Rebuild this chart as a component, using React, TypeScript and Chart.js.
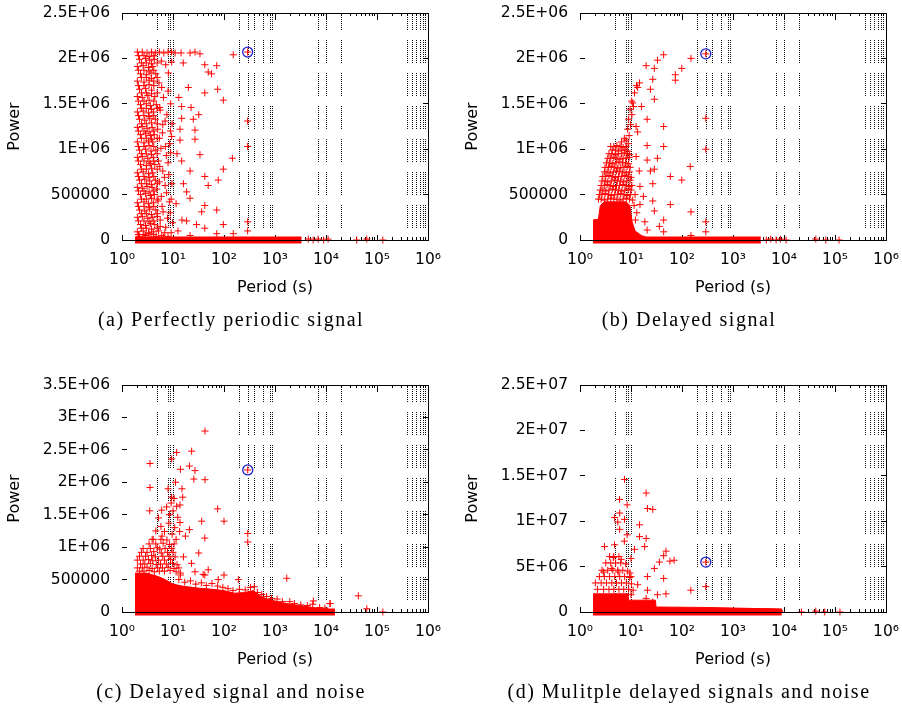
import React, { useEffect, useRef } from 'react';
import { Chart, registerables } from 'chart.js';

Chart.register(...registerables);

type Pt = [number, number];

// ---------- axes ----------
const periodMajorTicks = [1, 10, 100, 1000, 10000, 100000, 1000000];
const periodMajorLabels = ['10⁰', '10¹', '10²', '10³', '10⁴', '10⁵', '10⁶'];
const periodMinorTicks = [
  2, 3, 4, 5, 6, 7, 8, 9,
  20, 30, 40, 50, 60, 70, 80, 90,
  200, 300, 400, 500, 600, 700, 800, 900,
  2000, 3000, 4000, 5000, 6000, 7000, 8000, 9000,
  20000, 30000, 40000, 50000, 60000, 70000, 80000, 90000,
  200000, 300000, 400000, 500000, 600000, 700000, 800000, 900000,
];
const periodGridLines = [5, 8, 9, 10, 200, 300, 400, 600, 800, 900, 7000, 10000, 20000, 400000, 500000, 600000, 700000, 800000, 900000];

const powerTicksAB = [0, 500000, 1000000, 1500000, 2000000, 2500000];
const powerLabelsAB = ['0', '500000', '1E+06', '1.5E+06', '2E+06', '2.5E+06'];
const powerTicksC = [0, 500000, 1000000, 1500000, 2000000, 2500000, 3000000, 3500000];
const powerLabelsC = ['0', '500000', '1E+06', '1.5E+06', '2E+06', '2.5E+06', '3E+06', '3.5E+06'];
const powerTicksD = [0, 5000000, 10000000, 15000000, 20000000, 25000000];
const powerLabelsD = ['0', '5E+06', '1E+07', '1.5E+07', '2E+07', '2.5E+07'];

// ---------- (a) perfectly periodic signal ----------
const aColumn: Pt[] = [
  [2.0, 2.07e6], [2.5, 2.07e6], [3.1, 2.06e6], [3.8, 2.07e6], [4.5, 2.06e6], [5.4, 2.07e6], [6.6, 2.06e6], [8.0, 2.07e6], [9.4, 2.07e6], [11, 2.06e6],
  [2.2, 1.99e6], [2.9, 2.0e6], [3.5, 1.98e6], [4.3, 1.99e6], [5.9, 1.97e6],
  [2.0, 1.91e6], [2.6, 1.92e6], [3.3, 1.9e6], [4.0, 1.91e6], [7.2, 1.93e6],
  [2.3, 1.83e6], [3.0, 1.82e6], [3.7, 1.84e6], [4.6, 1.83e6],
  [2.0, 1.75e6], [2.7, 1.74e6], [3.4, 1.76e6], [4.2, 1.75e6], [5.3, 1.73e6],
  [2.2, 1.66e6], [2.9, 1.67e6], [3.8, 1.65e6],
  [2.0, 1.58e6], [2.5, 1.57e6], [3.2, 1.59e6], [4.4, 1.58e6],
  [2.3, 1.49e6], [3.0, 1.5e6], [3.6, 1.48e6], [4.7, 1.49e6],
  [2.0, 1.41e6], [2.6, 1.42e6], [3.3, 1.4e6], [4.1, 1.41e6], [5.6, 1.43e6],
  [2.2, 1.33e6], [2.8, 1.32e6], [3.5, 1.34e6], [4.5, 1.33e6], [7.0, 1.31e6],
  [2.0, 1.24e6], [2.5, 1.25e6], [3.1, 1.23e6], [3.9, 1.24e6], [5.0, 1.22e6],
  [2.3, 1.16e6], [2.9, 1.17e6], [3.6, 1.15e6], [4.3, 1.16e6], [6.2, 1.18e6],
  [2.0, 1.08e6], [2.7, 1.07e6], [3.3, 1.09e6], [4.0, 1.08e6], [8.6, 1.06e6],
  [2.2, 0.99e6], [2.9, 1.0e6], [3.7, 0.98e6], [4.6, 0.99e6], [5.8, 1.01e6],
  [2.0, 0.91e6], [2.5, 0.92e6], [3.2, 0.9e6], [4.1, 0.91e6], [7.4, 0.93e6],
  [2.3, 0.83e6], [3.0, 0.82e6], [3.6, 0.84e6], [4.4, 0.83e6], [5.5, 0.81e6],
  [2.0, 0.74e6], [2.6, 0.75e6], [3.3, 0.73e6], [4.0, 0.74e6], [6.3, 0.76e6], [8.3, 0.72e6],
  [2.2, 0.66e6], [2.8, 0.67e6], [3.5, 0.65e6], [4.5, 0.66e6], [5.4, 0.64e6],
  [2.0, 0.58e6], [2.5, 0.57e6], [3.1, 0.59e6], [3.9, 0.58e6], [4.8, 0.56e6], [7.0, 0.6e6],
  [2.3, 0.5e6], [2.9, 0.51e6], [3.6, 0.49e6], [4.3, 0.5e6], [5.9, 0.48e6],
  [2.0, 0.41e6], [2.7, 0.42e6], [3.3, 0.4e6], [4.1, 0.41e6], [5.1, 0.43e6], [8.5, 0.42e6],
  [2.2, 0.33e6], [2.8, 0.32e6], [3.5, 0.34e6], [4.6, 0.33e6], [6.4, 0.31e6],
  [2.0, 0.25e6], [2.5, 0.26e6], [3.2, 0.24e6], [3.9, 0.25e6], [4.9, 0.26e6], [7.8, 0.24e6],
  [2.3, 0.17e6], [2.9, 0.16e6], [3.6, 0.18e6], [4.4, 0.17e6], [5.6, 0.15e6],
  [2.0, 0.09e6], [2.6, 0.1e6], [3.3, 0.08e6], [4.1, 0.09e6], [5.2, 0.1e6], [6.9, 0.08e6],
  [2.2, 0.04e6], [2.9, 0.05e6], [3.7, 0.03e6], [4.7, 0.04e6], [6.0, 0.05e6], [8.0, 0.04e6],
];
const aColumnFill: Pt[] = [
  [2.1, 2.03e6], [2.7, 2.03e6], [3.4, 2.02e6], [4.2, 2.03e6],
  [2.4, 1.95e6], [3.0, 1.95e6], [3.8, 1.94e6], [4.9, 1.95e6],
  [2.1, 1.87e6], [2.7, 1.87e6], [3.4, 1.86e6], [4.2, 1.87e6],
  [2.4, 1.79e6], [3.0, 1.79e6], [3.8, 1.78e6], [4.9, 1.79e6],
  [2.1, 1.7e6], [2.7, 1.7e6], [3.4, 1.71e6], [4.2, 1.7e6],
  [2.4, 1.62e6], [3.0, 1.62e6], [3.8, 1.61e6], [4.9, 1.62e6],
  [2.1, 1.53e6], [2.7, 1.53e6], [3.4, 1.54e6], [4.2, 1.53e6],
  [2.4, 1.45e6], [3.0, 1.45e6], [3.8, 1.44e6], [4.9, 1.45e6],
  [2.1, 1.37e6], [2.7, 1.37e6], [3.4, 1.36e6], [4.2, 1.37e6],
  [2.4, 1.28e6], [3.0, 1.28e6], [3.8, 1.29e6], [4.9, 1.28e6],
  [2.1, 1.2e6], [2.7, 1.2e6], [3.4, 1.19e6], [4.2, 1.2e6],
  [2.4, 1.12e6], [3.0, 1.12e6], [3.8, 1.11e6], [4.9, 1.12e6],
  [2.1, 1.03e6], [2.7, 1.03e6], [3.4, 1.04e6], [4.2, 1.03e6],
  [2.4, 0.95e6], [3.0, 0.95e6], [3.8, 0.94e6], [4.9, 0.95e6],
  [2.1, 0.87e6], [2.7, 0.87e6], [3.4, 0.86e6], [4.2, 0.87e6],
  [2.4, 0.78e6], [3.0, 0.78e6], [3.8, 0.79e6], [4.9, 0.78e6],
  [2.1, 0.7e6], [2.7, 0.7e6], [3.4, 0.69e6], [4.2, 0.7e6],
  [2.4, 0.62e6], [3.0, 0.62e6], [3.8, 0.61e6], [4.9, 0.62e6],
  [2.1, 0.54e6], [2.7, 0.54e6], [3.4, 0.53e6], [4.2, 0.54e6],
  [2.4, 0.45e6], [3.0, 0.45e6], [3.8, 0.46e6], [4.9, 0.45e6],
  [2.1, 0.37e6], [2.7, 0.37e6], [3.4, 0.36e6], [4.2, 0.37e6],
  [2.4, 0.29e6], [3.0, 0.29e6], [3.8, 0.28e6], [4.9, 0.29e6],
  [2.1, 0.21e6], [2.7, 0.21e6], [3.4, 0.2e6], [4.2, 0.21e6],
  [2.4, 0.13e6], [3.0, 0.13e6], [3.8, 0.12e6], [4.9, 0.13e6],
  [2.1, 0.06e6], [2.7, 0.06e6], [3.4, 0.07e6], [4.2, 0.06e6],
];
const aMid: Pt[] = [
  [9.4, 1.96e6], [8.1, 1.84e6], [6.0, 1.68e6], [8.0, 1.64e6], [6.5, 1.57e6], [9.0, 1.5e6], [5.5, 1.46e6],
  [7.6, 1.38e6], [9.6, 1.28e6], [6.3, 1.27e6], [8.9, 1.2e6], [9.4, 1.14e6], [5.4, 1.12e6], [7.1, 1.03e6],
  [9.0, 0.96e6], [5.2, 0.87e6], [8.0, 0.85e6], [6.8, 0.69e6], [9.5, 0.62e6], [7.5, 0.52e6], [9.2, 0.45e6],
  [6.1, 0.37e6], [8.8, 0.3e6], [5.6, 0.22e6], [9.8, 0.19e6], [7.2, 0.14e6], [9.2, 0.08e6], [6.5, 0.03e6],
];
const aSparse: Pt[] = [
  [14.4, 2.06e6], [27, 2.07e6], [21.6, 2.06e6], [33.8, 2.05e6], [152, 2.04e6], [291, 2.07e6],
  [15.9, 1.95e6], [42, 1.93e6], [72, 1.92e6], [49, 1.85e6], [57, 1.83e6], [20, 1.68e6], [42, 1.62e6],
  [75, 1.66e6], [97, 1.54e6], [13, 1.57e6], [14.8, 1.47e6], [22.6, 1.46e6], [14.8, 1.34e6], [32, 1.38e6],
  [25, 1.33e6], [27, 1.21e6], [13.7, 1.22e6], [13.7, 1.1e6], [27, 1.11e6], [33.8, 0.94e6], [14.8, 0.87e6],
  [146, 0.9e6], [21.6, 0.76e6], [97, 0.78e6], [42, 0.7e6], [77, 0.66e6], [49, 0.6e6], [18.5, 0.53e6],
  [16, 0.62e6], [21.6, 0.46e6], [42, 0.38e6], [36.5, 0.31e6], [72, 0.33e6], [29, 0.17e6], [18.5, 0.21e6],
  [15, 0.22e6], [42, 0.13e6], [97, 0.17e6], [152, 0.07e6], [72, 0.07e6], [21.6, 0.05e6], [12, 0.95e6],
  [11.5, 0.4e6], [12.5, 0.1e6], [291, 1.31e6], [291, 1.03e6], [291, 0.2e6], [291, 0.1e6],
];
const aFar: Pt[] = [
  [4500, 0.01e6], [5600, 0], [7000, 0.01e6], [9000, 0], [11000, 0.01e6], [40000, 0], [63000, 0.01e6], [130000, 0],
];
const aFloor: Pt[] = [[1.8, 0], [3300, 0]];
const aPeak: Pt[] = [[291, 2.07e6]];

// ---------- (b) delayed signal ----------
const bCluster: Pt[] = [
  [4.0, 1.03e6], [4.6, 1.03e6], [5.3, 1.04e6], [6.1, 1.03e6], [7.0, 1.02e6], [8.0, 1.03e6],
  [4.3, 0.99e6], [5.0, 0.99e6], [5.7, 0.98e6], [6.6, 0.99e6], [7.6, 0.99e6], [8.6, 0.98e6],
  [3.7, 0.95e6], [4.2, 0.95e6], [4.9, 0.94e6], [5.6, 0.95e6], [6.5, 0.95e6], [7.4, 0.96e6], [8.5, 0.95e6], [9.4, 0.94e6],
  [3.5, 0.9e6], [4.0, 0.9e6], [4.6, 0.91e6], [5.3, 0.9e6], [6.1, 0.89e6], [7.0, 0.9e6], [8.0, 0.9e6], [9.2, 0.91e6],
  [3.3, 0.85e6], [3.8, 0.85e6], [4.4, 0.84e6], [5.1, 0.85e6], [5.8, 0.86e6], [6.8, 0.85e6], [7.8, 0.85e6], [9.0, 0.84e6],
  [3.1, 0.8e6], [3.6, 0.8e6], [4.1, 0.81e6], [4.8, 0.8e6], [5.5, 0.79e6], [6.3, 0.8e6], [7.3, 0.8e6], [8.4, 0.81e6], [9.6, 0.8e6],
  [3.0, 0.75e6], [3.4, 0.75e6], [3.9, 0.74e6], [4.5, 0.75e6], [5.2, 0.76e6], [6.0, 0.75e6], [6.9, 0.75e6], [8.0, 0.74e6], [9.3, 0.75e6],
  [2.8, 0.7e6], [3.2, 0.7e6], [3.7, 0.71e6], [4.3, 0.7e6], [4.9, 0.69e6], [5.7, 0.7e6], [6.6, 0.7e6], [7.6, 0.71e6], [8.8, 0.7e6], [10, 0.69e6],
  [2.7, 0.65e6], [3.1, 0.65e6], [3.5, 0.64e6], [4.1, 0.65e6], [4.7, 0.66e6], [5.4, 0.65e6], [6.2, 0.65e6], [7.2, 0.64e6], [8.3, 0.65e6], [9.6, 0.66e6],
  [2.6, 0.6e6], [3.0, 0.6e6], [3.4, 0.61e6], [3.9, 0.6e6], [4.5, 0.59e6], [5.2, 0.6e6], [6.0, 0.6e6], [6.9, 0.61e6], [8.0, 0.6e6], [9.2, 0.59e6], [10.4, 0.6e6],
  [2.5, 0.55e6], [2.8, 0.55e6], [3.2, 0.54e6], [3.7, 0.55e6], [4.3, 0.56e6], [5.0, 0.55e6], [5.7, 0.55e6], [6.6, 0.54e6], [7.6, 0.55e6], [8.8, 0.56e6], [10, 0.55e6],
  [2.4, 0.5e6], [2.7, 0.5e6], [3.1, 0.51e6], [3.6, 0.5e6], [4.1, 0.49e6], [4.8, 0.5e6], [5.5, 0.5e6], [6.3, 0.51e6], [7.3, 0.5e6], [8.4, 0.49e6], [9.7, 0.5e6],
  [2.3, 0.45e6], [2.6, 0.45e6], [3.0, 0.44e6], [3.5, 0.45e6], [4.0, 0.46e6], [4.6, 0.45e6], [5.3, 0.45e6], [6.1, 0.44e6], [7.0, 0.45e6], [8.1, 0.46e6], [9.3, 0.45e6], [10.8, 0.44e6],
];
const bTail: Pt[] = [
  [8.0, 1.1e6], [9.2, 1.15e6], [8.6, 1.22e6], [9.8, 1.27e6], [9.0, 1.33e6], [10.4, 1.38e6], [9.6, 1.44e6], [11.2, 1.47e6],
  [10.3, 1.53e6], [11.7, 1.62e6], [12.8, 1.7e6], [14.7, 1.73e6], [13.5, 1.68e6], [10.8, 1.51e6], [12.6, 1.25e6], [13.5, 1.19e6],
  [6.5, 1.08e6], [7.4, 1.12e6], [8.8, 1.06e6],
];
const bSparse: Pt[] = [
  [43.7, 2.04e6], [33, 1.98e6], [19.8, 1.92e6], [28.7, 1.89e6], [99, 1.89e6], [150, 2.0e6], [74, 1.82e6], [74, 1.76e6],
  [26.7, 1.77e6], [24, 1.66e6], [28.7, 1.55e6], [16, 1.47e6], [20.7, 1.33e6], [43.7, 1.25e6], [293, 1.34e6], [20.7, 1.04e6],
  [43.7, 1.03e6], [293, 1.0e6], [12.6, 0.92e6], [33, 0.9e6], [20.7, 0.88e6], [145, 0.81e6], [14.5, 0.76e6], [24, 0.76e6],
  [28.7, 0.78e6], [59, 0.7e6], [99, 0.66e6], [15, 0.59e6], [26.7, 0.62e6], [26.7, 0.43e6], [59, 0.39e6], [15, 0.39e6],
  [28.7, 0.32e6], [150, 0.31e6], [18.7, 0.2e6], [43.7, 0.22e6], [36, 0.15e6], [43.7, 0.09e6], [20.7, 0.11e6], [150, 0.05e6],
  [293, 0.09e6], [293, 0.2e6], [12, 0.5e6], [17.5, 0.48e6], [13, 0.3e6], [293, 2.05e6], [11.5, 0.38e6], [12.2, 0.22e6],
];
const bArea: Pt[] = [
  [1.8, 0.22e6], [2.3, 0.23e6], [2.5, 0.38e6], [3, 0.42e6], [8, 0.42e6], [9.5, 0.38e6],
  [10.5, 0.2e6], [12, 0.1e6], [16, 0.05e6], [22, 0.02e6], [28, 0],
];
const bFar: Pt[] = [
  [4500, 0], [5500, 0.01e6], [7000, 0], [8500, 0.01e6], [11000, 0], [42000, 0.01e6], [66000, 0], [120000, 0],
];
const bFloor: Pt[] = [[1.8, 0], [3500, 0]];
const bPeak: Pt[] = [[293, 2.05e6]];

// ---------- (c) delayed signal and noise ----------
const cArea: Pt[] = [
  [1.8, 0.6e6], [3, 0.6e6], [5, 0.55e6], [7, 0.5e6], [10, 0.43e6], [15, 0.4e6], [30, 0.37e6], [60, 0.35e6],
  [100, 0.33e6], [160, 0.29e6], [250, 0.3e6], [380, 0.33e6], [500, 0.25e6], [700, 0.2e6], [1000, 0.17e6],
  [1700, 0.13e6], [3000, 0.1e6], [5600, 0.07e6], [10000, 0.04e6], [15000, 0],
];
const cCluster: Pt[] = [
  [3.9, 1.12e6], [5.8, 1.12e6], [7.6, 1.11e6],
  [3.4, 1.05e6], [4.6, 1.05e6], [6.4, 1.06e6], [8.5, 1.04e6], [10.5, 1.05e6],
  [2.6, 0.98e6], [3.6, 0.98e6], [4.9, 0.99e6], [5.5, 0.97e6], [7.0, 0.98e6], [9.4, 0.98e6],
  [2.4, 0.92e6], [3.1, 0.92e6], [4.2, 0.93e6], [5.9, 0.91e6], [7.8, 0.92e6], [10, 0.92e6],
  [2.2, 0.86e6], [2.9, 0.86e6], [3.8, 0.87e6], [4.5, 0.85e6], [6.3, 0.86e6], [8.4, 0.86e6], [11, 0.85e6],
  [2.0, 0.8e6], [2.6, 0.8e6], [3.3, 0.81e6], [4.0, 0.79e6], [5.2, 0.8e6], [6.8, 0.8e6], [9.0, 0.81e6],
  [2.3, 0.74e6], [2.8, 0.74e6], [3.6, 0.75e6], [4.7, 0.73e6], [5.7, 0.74e6], [7.4, 0.74e6], [9.8, 0.75e6], [12, 0.73e6],
  [2.0, 0.68e6], [2.5, 0.68e6], [3.1, 0.69e6], [3.9, 0.67e6], [5.0, 0.68e6], [6.2, 0.68e6], [8.0, 0.69e6], [10.5, 0.67e6],
  [2.2, 0.63e6], [2.7, 0.63e6], [3.4, 0.64e6], [4.3, 0.62e6], [5.4, 0.63e6], [6.8, 0.63e6], [8.8, 0.64e6], [11.5, 0.62e6], [14, 0.6e6],
];
const cEdge: Pt[] = [
  [13, 0.5e6], [17, 0.46e6], [22, 0.48e6], [28, 0.43e6], [36, 0.45e6], [45, 0.41e6], [58, 0.44e6], [75, 0.4e6],
  [95, 0.38e6], [120, 0.36e6], [150, 0.33e6], [200, 0.35e6], [260, 0.34e6], [330, 0.38e6], [393, 0.39e6], [450, 0.3e6],
  [550, 0.27e6], [680, 0.24e6], [850, 0.21e6], [1100, 0.2e6], [1400, 0.16e6], [1950, 0.16e6], [2400, 0.13e6],
  [3200, 0.11e6], [4300, 0.1e6], [5500, 0.12e6], [7500, 0.07e6], [9500, 0.06e6], [12000, 0.13e6],
  [77, 0.5e6], [39, 0.58e6], [13, 0.68e6],
];
const cUpper: Pt[] = [
  [5.2, 1.45e6], [7.5, 1.62e6], [9.2, 1.68e6], [10.5, 1.75e6], [8.3, 1.37e6], [10.8, 1.3e6], [12.4, 1.46e6],
  [6.8, 1.24e6], [9.6, 1.2e6], [11.5, 1.12e6], [4.6, 1.25e6], [8.0, 1.9e6], [11.2, 2.0e6], [4.1, 1.12e6], [6.1, 1.17e6],
];
const cSparse: Pt[] = [
  [42.4, 2.79e6], [11.8, 2.46e6], [23.2, 2.48e6], [3.54, 2.29e6], [9.4, 2.36e6], [14, 2.2e6], [21, 2.25e6], [27, 2.18e6],
  [25.6, 2.05e6], [42.4, 2.04e6], [3.54, 1.92e6], [15, 1.9e6], [9.4, 1.77e6], [13.7, 1.65e6], [11.8, 1.63e6], [15.5, 1.77e6],
  [75, 1.59e6], [3.5, 1.56e6], [6, 1.57e6], [10, 1.56e6], [8.5, 1.5e6], [36.5, 1.4e6], [100, 1.4e6], [13.7, 1.38e6],
  [5.8, 1.32e6], [13.5, 1.24e6], [21, 1.27e6], [17.5, 1.17e6], [42, 1.14e6], [292, 1.21e6], [292, 1.08e6], [32, 0.91e6],
  [16, 0.85e6], [23, 0.75e6], [27, 0.62e6], [49, 0.65e6], [42, 0.57e6], [100, 0.57e6], [14, 0.57e6], [1700, 0.52e6],
  [191, 0.5e6], [5640, 0.17e6], [12000, 0.13e6], [43000, 0.25e6], [63000, 0.05e6], [130000, 0], [292, 2.19e6],
];
const cFloor: Pt[] = [[1.8, 0], [15000, 0]];
const cPeak: Pt[] = [[292, 2.19e6]];

// ---------- (d) multiple delayed signals and noise ----------
const dArea: Pt[] = [
  [1.8, 2.0e6], [8.7, 2.0e6], [9.0, 1.3e6], [30, 1.3e6], [31, 0.55e6], [300, 0.5e6], [2000, 0.4e6], [6000, 0.35e6], [9000, 0.3e6], [9500, 0],
];
const dCluster: Pt[] = [
  [2.2, 2.5e6], [2.9, 2.5e6], [3.7, 2.5e6], [4.6, 2.5e6], [5.8, 2.5e6], [7.2, 2.5e6], [9.0, 2.5e6], [11, 2.4e6],
  [2.0, 3.2e6], [2.6, 3.2e6], [3.3, 3.2e6], [4.2, 3.2e6], [5.2, 3.2e6], [6.5, 3.2e6], [8.1, 3.2e6], [10.2, 3.1e6],
  [2.4, 3.9e6], [3.0, 3.9e6], [3.8, 3.9e6], [4.8, 3.9e6], [6.0, 3.9e6], [7.5, 3.9e6], [9.4, 3.8e6],
  [2.7, 4.6e6], [3.5, 4.6e6], [4.4, 4.6e6], [5.5, 4.6e6], [6.9, 4.6e6], [8.6, 4.5e6],
  [3.2, 5.4e6], [4.0, 5.4e6], [5.0, 5.4e6], [6.3, 5.4e6], [7.9, 5.3e6],
  [3.8, 6.1e6], [4.6, 6.1e6], [5.8, 6.1e6],
];
const dSparse: Pt[] = [
  [7.45, 14.6e6], [19.8, 13.1e6], [5.96, 12.4e6], [8.4, 11.8e6], [26.7, 11.3e6], [21, 11.4e6], [6, 10.9e6], [7.45, 10.2e6],
  [4.76, 10.4e6], [5.5, 9.9e6], [14.7, 9.6e6], [6, 9.1e6], [14.7, 8.3e6], [19.8, 8.1e6], [7.4, 7.8e6], [18.5, 7.2e6],
  [11.7, 6.9e6], [48.5, 6.7e6], [36, 5.5e6], [58, 5.6e6], [70, 5.7e6], [43.7, 6.2e6], [293, 5.5e6], [293, 2.8e6],
  [149, 2.4e6], [33, 1.9e6], [48.5, 2.0e6], [19.8, 1.5e6], [26.7, 1.1e6], [8.4, 8.5e6],
  [3.03, 7.2e6], [4.76, 7.4e6], [4.5, 6.0e6], [6.4, 5.8e6], [10, 5.9e6], [2.9, 4.4e6], [4.2, 4.8e6], [5.6, 4.4e6],
  [10, 3.9e6], [10, 1.9e6], [13.5, 3.0e6], [21, 2.4e6], [21, 3.9e6], [28.7, 4.8e6], [43.7, 3.7e6], [9.5, 4.3e6],
];
const dFar: Pt[] = [[22000, 0], [42000, 0.1e6], [63000, 0], [125000, 0]];
const dFloor: Pt[] = [[1.8, 0], [9000, 0]];
const dPeak: Pt[] = [[293, 5.5e6]];

// ---------- styles ----------
const RED = '#ff0000';
const PEAK_BLUE = '#1f1fd0';
const FONT = "'DejaVu Sans', sans-serif";
const gridDash = [1, 1, 1, 1, 1, 1, 1, 1, 1, 1, 1, 1, 1, 1, 1, 1, 1, 1, 1, 1, 1, 1, 1, 10];
const CANVAS_W = 444;
const CANVAS_H = 332;

interface PanelDef {
  caption: string;
  left: number;
  top: number;
  ticks: number[];
  labels: string[];
  points: Pt[];
  area: Pt[] | null;
  floor: Pt[];
  peak: Pt[];
}

const panels: PanelDef[] = [
  { caption: '(a) Perfectly periodic signal', left: 0, top: 0, ticks: powerTicksAB, labels: powerLabelsAB,
    points: [...aColumn, ...aColumnFill, ...aMid, ...aSparse, ...aFar], area: null, floor: aFloor, peak: aPeak },
  { caption: '(b) Delayed signal', left: 458, top: 0, ticks: powerTicksAB, labels: powerLabelsAB,
    points: [...bCluster, ...bTail, ...bSparse, ...bFar], area: bArea, floor: bFloor, peak: bPeak },
  { caption: '(c) Delayed signal and noise', left: 0, top: 372, ticks: powerTicksC, labels: powerLabelsC,
    points: [...cCluster, ...cEdge, ...cUpper, ...cSparse], area: cArea, floor: cFloor, peak: cPeak },
  { caption: '(d) Mulitple delayed signals and noise', left: 458, top: 372, ticks: powerTicksD, labels: powerLabelsD,
    points: [...dCluster, ...dSparse, ...dFar], area: dArea, floor: dFloor, peak: dPeak },
];

const toXY = (pts: Pt[]) => pts.map(([x, y]) => ({ x, y }));
const fixedTicks = (values: number[]) => (axis: any) => {
  axis.ticks = values.map((v) => ({ value: v }));
};
const fixBox = (size: { height?: number; width?: number }) => (s: any) => {
  if (size.height !== undefined) s.height = size.height;
  if (size.width !== undefined) s.width = size.width;
  s.paddingLeft = 0;
  s.paddingRight = 0;
  s.paddingTop = 0;
  s.paddingBottom = 0;
};

function PowerPanel({ def }: { def: PanelDef }) {
  const ref = useRef<HTMLCanvasElement | null>(null);

  useEffect(() => {
    if (!ref.current) return;
    const yMax = def.ticks[def.ticks.length - 1];
    const tickFont = { family: FONT, size: 15.5 };
    const titleFont = { family: FONT, size: 16 };
    const datasets: any[] = [
      {
        type: 'scatter', label: 'peak', data: toXY(def.peak), pointStyle: 'circle', pointRadius: 5,
        borderColor: PEAK_BLUE, backgroundColor: 'rgba(0,0,0,0)', borderWidth: 1.3, order: 0, clip: false,
      },
      {
        type: 'scatter', label: 'power', data: toXY(def.points), pointStyle: 'cross', pointRadius: 3.5,
        borderColor: RED, backgroundColor: RED, borderWidth: 1, order: 1, clip: false,
      },
      {
        type: 'line', label: 'floor', data: toXY(def.floor), borderColor: RED, borderWidth: 7, pointRadius: 0,
        fill: false, order: 2, clip: false, borderCapStyle: 'butt',
      },
    ];
    if (def.area) {
      datasets.push({
        type: 'line', label: 'dense', data: toXY(def.area), borderColor: RED, borderWidth: 1, backgroundColor: RED,
        fill: 'origin', pointRadius: 0, tension: 0, order: 3, clip: false,
      });
    }

    const tickGrid = (len: number) => ({ drawOnChartArea: false, drawTicks: true, tickLength: len, tickColor: '#000', tickWidth: 1 });

    const chart = new Chart(ref.current, {
      type: 'scatter',
      data: { datasets },
      options: {
        animation: false,
        responsive: false,
        maintainAspectRatio: false,
        devicePixelRatio: 1,
        events: [],
        layout: { padding: { left: 0, right: 16, top: 13, bottom: 32 } },
        plugins: { legend: { display: false }, tooltip: { enabled: false }, title: { display: false } },
        scales: {
          x: {
            type: 'logarithmic', position: 'bottom', min: 1, max: 1e6,
            afterBuildTicks: fixedTicks(periodMajorTicks),
            afterFit: fixBox({ height: 60 }),
            ticks: {
              autoSkip: false, maxRotation: 0, minRotation: 0, font: tickFont, color: '#000', padding: 16,
              callback: (_v: any, i: number) => periodMajorLabels[i],
            },
            grid: tickGrid(-5),
            border: { display: true, color: '#000', width: 1, z: 1 },
            title: { display: true, text: 'Period (s)', font: titleFont, color: '#000', padding: { top: 0, bottom: 3 } },
          },
          xMinorBottom: {
            axis: 'x', type: 'logarithmic', position: 'bottom', weight: -1, min: 1, max: 1e6,
            afterBuildTicks: fixedTicks(periodMinorTicks),
            afterFit: fixBox({ height: 0 }),
            ticks: { display: false },
            grid: tickGrid(-3),
            border: { display: false },
          },
          xGrid: {
            axis: 'x', type: 'logarithmic', position: 'bottom', weight: -2, min: 1, max: 1e6,
            afterBuildTicks: fixedTicks(periodGridLines),
            afterFit: fixBox({ height: 0 }),
            ticks: { display: false },
            grid: { drawOnChartArea: true, drawTicks: false, color: '#111', lineWidth: 1 },
            border: { display: false, dash: gridDash, dashOffset: 6 },
          },
          xTopMajor: {
            axis: 'x', type: 'logarithmic', position: 'top', min: 1, max: 1e6,
            afterBuildTicks: fixedTicks(periodMajorTicks),
            afterFit: fixBox({ height: 0 }),
            ticks: { display: false },
            grid: tickGrid(-7),
            border: { display: true, color: '#000', width: 1 },
          },
          xTopMinor: {
            axis: 'x', type: 'logarithmic', position: 'top', weight: -1, min: 1, max: 1e6,
            afterBuildTicks: fixedTicks(periodMinorTicks),
            afterFit: fixBox({ height: 0 }),
            ticks: { display: false },
            grid: tickGrid(-3),
            border: { display: false },
          },
          y: {
            type: 'linear', position: 'left', min: 0, max: yMax,
            afterBuildTicks: fixedTicks(def.ticks),
            afterFit: fixBox({ width: 122 }),
            ticks: { font: tickFont, color: '#000', padding: 17, callback: (_v: any, i: number) => def.labels[i] },
            grid: tickGrid(-5),
            border: { display: false },
            title: { display: true, text: 'Power', font: titleFont, color: '#000', padding: { top: 5, bottom: 0 } },
          },
          y2: {
            axis: 'y', type: 'linear', position: 'right', min: 0, max: yMax,
            afterBuildTicks: fixedTicks(def.ticks),
            afterFit: fixBox({ width: 0 }),
            ticks: { display: false },
            grid: tickGrid(-5),
            border: { display: true, color: '#000', width: 1 },
          },
        },
      } as any,
    });
    return () => chart.destroy();
  }, [def]);

  return (
    <div style={{ position: 'absolute', left: def.left, top: def.top, width: CANVAS_W, height: CANVAS_H }}>
      <canvas ref={ref} width={CANVAS_W} height={CANVAS_H} style={{ display: 'block', width: CANVAS_W, height: CANVAS_H }} />
      <div
        style={{
          position: 'absolute', left: 0, top: 307, width: CANVAS_W, paddingLeft: 18, boxSizing: 'border-box',
          textAlign: 'center', fontFamily: "'Liberation Serif', serif", fontSize: 20, lineHeight: '24px',
          letterSpacing: '1.5px', color: '#000', whiteSpace: 'nowrap',
        }}
      >
        {def.caption}
      </div>
    </div>
  );
}

export default function App() {
  return (
    <div style={{ position: 'absolute', left: 0, top: 0, width: 902, height: 704, overflow: 'hidden', background: '#fff' }}>
      {panels.map((p) => (
        <PowerPanel key={p.caption} def={p} />
      ))}
    </div>
  );
}
